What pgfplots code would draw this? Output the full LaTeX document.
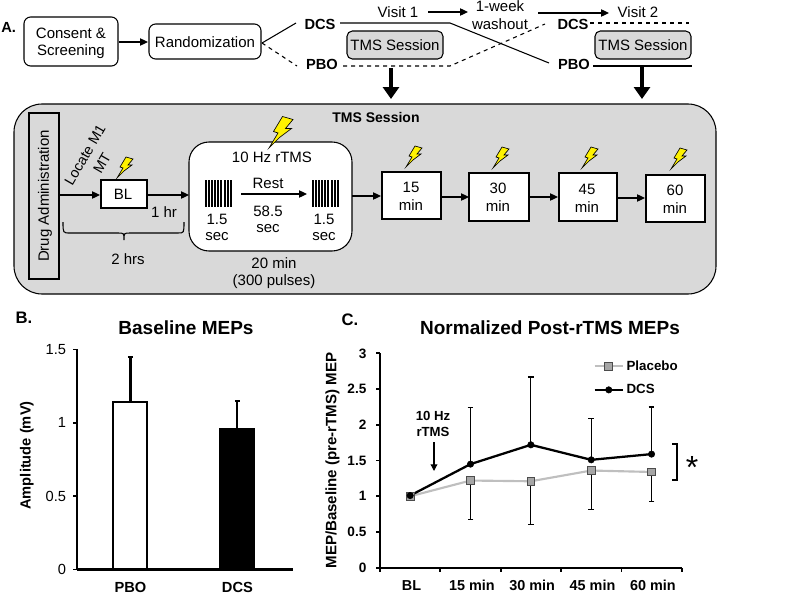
\documentclass[border=0pt]{standalone}
\usepackage{pgfplots}
\pgfplotsset{compat=1.18}
\usepackage{fontspec}
\setmainfont{Liberation Sans}
\usetikzlibrary{arrows.meta}
\definecolor{panel}{HTML}{D9D9D9}
\definecolor{boltyellow}{HTML}{FFF200}
\definecolor{plgrey}{HTML}{BFBFBF}
\definecolor{plmark}{HTML}{A6A6A6}
% font sizes given in picture pixels (1 px = 0.75 pt)
\newcommand{\fr}{\fontsize{11.25}{13.5}\selectfont}
\newcommand{\fb}{\fontsize{11}{13}\selectfont\bfseries}
% lightning bolt: tip at #1, scale #2
\newcommand{\bolt}[2]{\draw[fill=boltyellow,line width=0.5pt,shift={(#1)},scale=#2,line join=miter]
  (0,0)--(6,-10)--(3,-11)--(9,-21)--(16,-19)--(11,-13)--(15,-13)--(7,-7)--cycle;}
% pulse train, left edge #1, top #2
\newcommand{\pulses}[2]{\foreach \d/\w in {0/1.1,3/1.1,6/1.1,9/1.1,12/1.1,15/2.2,19/1.1,22/1.1,25/1.1}
  \draw[line width=\w*0.75pt] (#1+\d,#2)--(#1+\d,#2+27);}
\tikzset{
  arr/.style={-{Triangle[length=6pt,width=5.5pt]},line width=0.9pt},
  fat/.style={-{Triangle[length=9pt,width=12pt]},line width=3pt},
  txt/.style={font=\fr,align=center,inner sep=0pt},
  bld/.style={font=\fb,align=center,inner sep=0pt},
  box/.style={line width=0.8pt},
}
\pgfplotstableread{
x   y     err
0   1.14  0.31
}\pbobar
\pgfplotstableread{
x   y     err
1   0.96  0.19
}\dcsbar
\pgfplotstableread{
x   y     err
0   1.00  0
1   1.22  0.54
2   1.21  0.61
3   1.36  0.54
4   1.34  0.41
}\placebo
\pgfplotstableread{
x   y     err
0   1.01  0
1   1.45  0.79
2   1.72  0.95
3   1.51  0.58
4   1.59  0.66
}\dcs
\begin{document}
\begin{tikzpicture}
\useasboundingbox (0,0) rectangle (600pt,-452.25pt);

\begin{scope}[x=0.75pt,y=-0.75pt]
% --- panel A, top row
\node[bld,anchor=west] at (1,27) {A.};
\draw[box,rounded corners=5pt] (24,17) rectangle (118,66);
\node[txt] at (71,33) {Consent \&};
\node[txt] at (71,52) {Screening};
\draw[arr] (119,42)--(148,42);
\draw[box,rounded corners=5pt] (149,24) rectangle (261,59);
\node[txt] at (205,42) {Randomization};
\draw[line width=0.8pt] (262,43)--(296,23);
\draw[line width=0.8pt,dashed] (262,43)--(297,66);
\node[bld] at (320,24) {DCS};
\node[bld] at (322,64) {PBO};
\draw[box] (340,23)--(450,23)--(549,63);
\draw[box,dashed] (343,66)--(450,66)--(545,24);
\draw[box,rounded corners=4pt,fill=panel] (347,31) rectangle (443,59);
\node[txt] at (395,45) {TMS Session};
\node[txt] at (398,12) {Visit 1};
\draw[arr] (428,12)--(468,12);
\node[txt] at (500,6) {1-week};
\node[txt] at (500,24) {washout};
\draw[arr] (538,13)--(609,13);
\node[txt] at (638,12) {Visit 2};
\node[bld] at (573,24) {DCS};
\node[bld] at (574,64) {PBO};
\draw[box,dashed] (590,23)--(689,23);
\draw[box] (593,66)--(692,66);
\draw[box,rounded corners=4pt,fill=panel] (595,31) rectangle (691,59);
\node[txt] at (643,45) {TMS Session};
\draw[fat] (391,68)--(391,99);
\draw[fat] (642,67)--(642,99);

% --- TMS session box
\draw[box,rounded corners=21pt,fill=panel] (14,104) rectangle (716,294);
\node[bld,font=\fontsize{10.5}{13}\selectfont\bfseries] at (376,117) {TMS Session};
\draw[box] (29,113) rectangle (59,279);
\node[txt,rotate=90] at (45,196) {Drug Administration};
\draw[arr] (59,195)--(100,195);
\node[txt,rotate=60,font=\fontsize{10.8}{13}\selectfont] at (85,155) {Locate M1};
\node[txt,rotate=60,font=\fontsize{10.8}{13}\selectfont] at (102,163) {MT};
\draw[box,fill=white] (101,180) rectangle (147,208);
\node[txt] at (123,194) {BL};
\draw[arr] (147,195)--(189,195);
\node[txt] at (164,212) {1 hr};
\draw[box] (63,222) .. controls (63,233) .. (70,233) -- (118,233)
  .. controls (124,233) .. (124,240) .. controls (124,233) .. (130,233) -- (178,233)
  .. controls (184,233) .. (184,222);
\node[txt] at (128,259) {2 hrs};
\draw[box,rounded corners=15pt,fill=white] (189,142) rectangle (352,251);
\node[txt] at (272,157) {10 Hz rTMS};
\pulses{206}{180}
\pulses{313}{180}
\node[txt] at (217,219) {1.5};
\node[txt] at (217,237) {sec};
\node[txt] at (324,219) {1.5};
\node[txt] at (324,237) {sec};
\node[txt] at (268,183) {Rest};
\draw[arr] (241,194)--(307,194);
\node[txt] at (268,211) {58.5};
\node[txt] at (268,229) {sec};
\node[txt] at (274,263) {20 min};
\node[txt] at (274,282) {(300 pulses)};
\draw[arr] (352,196)--(381,196);
\draw[box,fill=white] (382,172) rectangle (441,219);
\node[txt] at (411,187) {15};
\node[txt] at (411,205) {min};
\draw[arr] (441,197)--(469,197);
\draw[box,fill=white] (469,173) rectangle (529,221);
\node[txt] at (498,188) {30};
\node[txt] at (498,206) {min};
\draw[arr] (529,197)--(558,197);
\draw[box,fill=white] (559,173) rectangle (617,221);
\node[txt] at (587,189) {45};
\node[txt] at (587,207) {min};
\draw[arr] (617,198)--(645,198);
\draw[box,fill=white] (646,175) rectangle (705,222);
\node[txt] at (675,190) {60};
\node[txt] at (675,208) {min};
\bolt{117,178}{1}
\bolt{269,148}{1.5}
\bolt{406,167}{1}
\bolt{493,168}{1}
\bolt{582,168}{1}
\bolt{671,169}{1}

% --- panel headings and notes around the plots
\node[font=\fontsize{12.5}{15}\selectfont\bfseries,inner sep=0pt] at (24,318) {B.};
\node[font=\fontsize{14.25}{17}\selectfont\bfseries,inner sep=0pt] at (186,328) {Baseline MEPs};
\node[font=\fontsize{12.5}{15}\selectfont\bfseries,inner sep=0pt] at (350,320) {C.};
\node[font=\fontsize{14.25}{17}\selectfont\bfseries,inner sep=0pt] at (550,328) {Normalized Post-rTMS MEPs};
\node[font=\fontsize{9.9}{12}\selectfont\bfseries,inner sep=0pt] at (433,416) {10 Hz};
\node[font=\fontsize{9.9}{12}\selectfont\bfseries,inner sep=0pt] at (433,432) {rTMS};
\draw[-{Triangle[length=5pt,width=5pt]},line width=0.9pt] (434,442)--(434,471);
\draw[line width=1.2pt] (672,444)--(677,444)--(677,480)--(672,480);
\node[font=\fontsize{24}{24}\selectfont,inner sep=0pt] at (692,467) {*};
\end{scope}

% --- panel B
\begin{axis}[
    at={(57.75pt,-427.1pt)}, anchor=south west,
    scale only axis, width=162pt, height=165pt,
    axis x line=bottom, axis y line=left,
    axis line style={-,line width=1.6pt},
    xmin=-0.5, xmax=1.52, ymin=0, ymax=1.5,
    xtick={0,1}, xticklabels={PBO,DCS},
    ytick={0,0.5,1,1.5},
    major x tick style={draw=none},
    major y tick style={line width=1.3pt,black},
    tick align=outside, major tick length=3pt,
    /pgf/number format/assume math mode=true,
    yticklabel style={font=\fontsize{11}{13}\selectfont,inner sep=2pt,xshift=-3pt},
    xticklabel style={font=\fb,yshift=-3pt},
    ylabel={Amplitude (mV)},
    ylabel style={font=\fontsize{11}{13}\selectfont\bfseries,xshift=3pt},
    ylabel shift=3.5pt,
    ybar, bar width=25.5pt, bar shift=0pt,
]
\addplot[draw=black,line width=1.5pt,fill=white,
    error bars/.cd,y dir=plus,y explicit,
    error bar style={line width=1.6pt,black},
    error mark options={black,rotate=90,mark size=1.9pt,line width=1.6pt}]
    table[x=x,y=y,y error=err] {\pbobar};
\addplot[draw=black,line width=1.5pt,fill=black,
    error bars/.cd,y dir=plus,y explicit,
    error bar style={line width=1.6pt,black},
    error mark options={black,rotate=90,mark size=1.9pt,line width=1.6pt}]
    table[x=x,y=y,y error=err] {\dcsbar};
\end{axis}

% --- panel C
\begin{axis}[
    at={(285pt,-425.8pt)}, anchor=south west,
    scale only axis, width=226.3pt, height=160.8pt,
    axis x line=bottom, axis y line=left,
    axis line style={-,line width=1.6pt},
    xmin=-0.5, xmax=4.5, ymin=0, ymax=3,
    xtick={0,...,4},
    xticklabels={BL,15 min,30 min,45 min,60 min},
    minor xtick={-0.5,0.5,1.5,2.5,3.5,4.5},
    ytick={0,0.5,...,3},
    major x tick style={draw=none},
    major y tick style={line width=1.3pt,black},
    minor x tick style={line width=1.3pt,black},
    tick align=outside, major tick length=3pt, minor tick length=3pt,
    /pgf/number format/assume math mode=true,
    yticklabel style={font=\fontsize{10.2}{12}\selectfont\bfseries,inner sep=2pt,xshift=-5pt},
    xticklabel style={font=\fontsize{10.8}{13}\selectfont\bfseries,yshift=-3pt,xshift=1pt},
    ylabel={MEP/Baseline (pre-rTMS) MEP},
    ylabel style={font=\fontsize{11.3}{13}\selectfont\bfseries},
    ylabel shift=0.5pt,
    legend style={draw=none,fill=none,at={(0.707,0.98)},anchor=north west,
      font=\fontsize{10}{12}\selectfont\bfseries,row sep=5pt,inner sep=0pt},
    legend cell align=left,
    legend image code/.code={\draw[mark repeat=2,mark phase=2,#1]
      plot coordinates {(0cm,0cm)(0.37cm,0cm)(0.74cm,0cm)};},
    error bars/error bar style={line width=0.9pt,black},
    error bars/error mark options={black,rotate=90,mark size=2.2pt,line width=0.9pt},
]
\addplot[color=plgrey,line width=1.6pt,mark=square*,
    mark options={draw=black!70,fill=plmark,mark size=2.9pt,line width=0.7pt},
    error bars/.cd,y dir=minus,y explicit]
    table[x=x,y=y,y error=err] {\placebo};
\addlegendentry{Placebo}
\addplot[color=black,line width=1.7pt,mark=*,
    mark options={fill=black,mark size=2.4pt,line width=0.4pt},
    error bars/.cd,y dir=plus,y explicit]
    table[x=x,y=y,y error=err] {\dcs};
\addlegendentry{DCS}
\end{axis}
\end{tikzpicture}
\end{document}
